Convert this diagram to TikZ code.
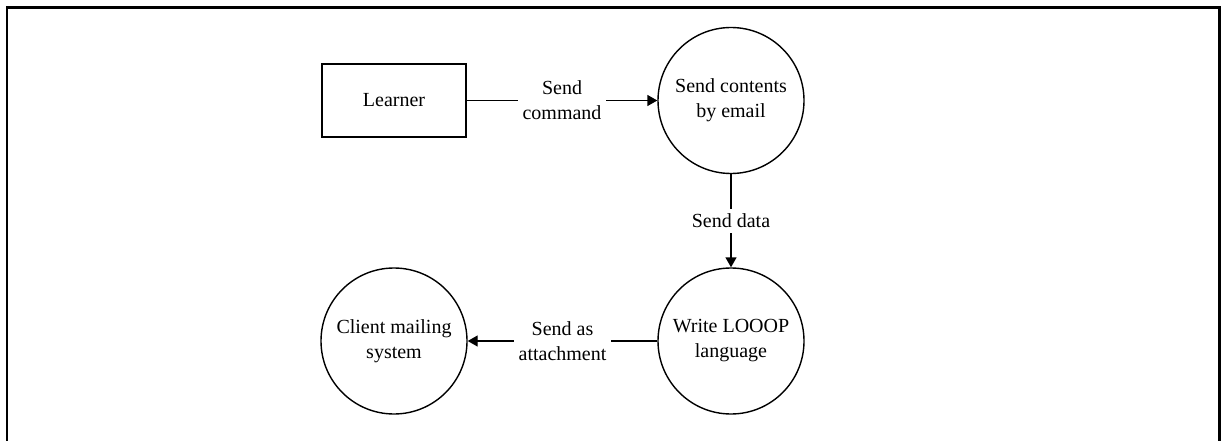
\documentclass[tikz,border=0pt]{standalone}
\usepackage{fontspec}
\setmainfont{Liberation Serif}
\usetikzlibrary{arrows.meta}
\begin{document}
\begin{tikzpicture}[x=1pt,y=-1pt,
  every node/.style={font=\fontsize{20}{25}\selectfont},
  entity/.style={draw,line width=1.4pt,minimum width=144,minimum height=73,inner sep=0},
  process/.style={draw,circle,line width=1.4pt,minimum size=146,inner sep=0,align=center},
  flow/.style={line width=1.4pt,-{Triangle[length=10pt,width=11pt]}},
  flowlabel/.style={fill=white,inner sep=5pt,align=center}]
\useasboundingbox (0,0) rectangle (1222,441);
\draw[line width=2.5pt] (7,445) -- (7,7.5) -- (1219.5,7.5) -- (1219.5,445);
\node[entity] (learner) at (394,100.5) {Learner};
\node[process] (send) at (731,100.5) {Send contents\\by email};
\node[process] (write) at (731,341) {Write LOOOP\\language};
\node[process] (client) at (394,341) {Client mailing\\system};
\draw[flow] (learner) -- node[flowlabel] {Send\\command} (send);
\draw[flow] (send) -- node[flowlabel] {Send data} (write);
\draw[flow] (write) -- node[flowlabel] {Send as\\attachment} (client);
\end{tikzpicture}
\end{document}
